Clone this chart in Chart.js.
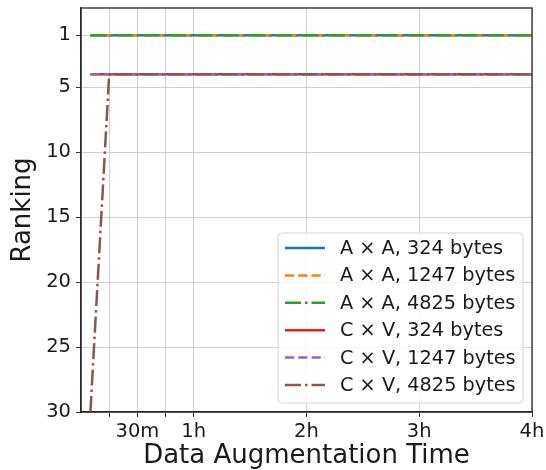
<!DOCTYPE html>
<html>
<head>
<meta charset="utf-8">
<script src="https://cdn.jsdelivr.net/npm/chart.js@4.4.1/dist/chart.umd.min.js"></script>
<style>
  html, body { margin: 0; padding: 0; background: #fff; }
  canvas { display: block; }
</style>
</head>
<body>
<canvas id="myChart" width="546" height="470"></canvas>
<script>
// time in minutes since start of augmentation
var times = [5, 15, 30, 60, 120, 180, 240];
var aa324 = [1, 1, 1, 1, 1, 1, 1];
var aa1247 = [1, 1, 1, 1, 1, 1, 1];
var aa4825 = [1, 1, 1, 1, 1, 1, 1];
var cv324 = [4, 4, 4, 4, 4, 4, 4];
var cv1247 = [4, 4, 4, 4, 4, 4, 4];
var cv4825 = [30, 4, 4, 4, 4, 4, 4];

var seriesLabels = [
  "A \u00d7 A, 324 bytes",
  "A \u00d7 A, 1247 bytes",
  "A \u00d7 A, 4825 bytes",
  "C \u00d7 V, 324 bytes",
  "C \u00d7 V, 1247 bytes",
  "C \u00d7 V, 4825 bytes"
];

var xTickValues = [15, 30, 45, 60, 120, 180, 240];
var xTickLabels = ["", "30m", "", "1h", "2h", "3h", "4h"];
var yTickValues = [1, 5, 10, 15, 20, 25, 30];

var FONT = "'DejaVu Sans', sans-serif";
var LW = 2.5;
var DASHED = [9.25, 4];
var DASHDOT = [16, 4, 2.5, 4];

toPoints = arr => arr.map((v, i) => ({ x: times[i], y: v }));

// later series are drawn on top, like matplotlib
makeSet = (label, data, color, dash, idx) => ({
  label: label,
  data: toPoints(data),
  borderColor: color,
  backgroundColor: color,
  borderWidth: LW,
  borderDash: dash,
  borderCapStyle: "butt",
  pointRadius: 0,
  tension: 0,
  fill: false,
  order: 10 - idx
});

// matplotlib style box around plot + legend inside the axes
var boxPlugin = {
  id: "boxAndLegend",
  afterDatasetsDraw: chart => {
    var ctx = chart.ctx;
    var a = chart.chartArea;
    ctx.save();

    // legend
    var w = 245, h = 170;
    var lx = a.right - 9 - w, ly = a.bottom - 9 - h;
    ctx.beginPath();
    ctx.roundRect(lx, ly, w, h, 4);
    ctx.fillStyle = "rgba(255,255,255,0.8)";
    ctx.fill();
    ctx.strokeStyle = "#d4d4d4";
    ctx.lineWidth = 1;
    ctx.stroke();

    ctx.font = "19.3px " + FONT;
    ctx.textBaseline = "middle";
    ctx.textAlign = "left";
    chart.data.datasets.forEach((ds, i) => {
      var y = ly + 15 + i * 27.4;
      ctx.beginPath();
      ctx.setLineDash(ds.borderDash || []);
      ctx.lineCap = "butt";
      ctx.strokeStyle = ds.borderColor;
      ctx.lineWidth = LW;
      ctx.moveTo(lx + 7, y);
      ctx.lineTo(lx + 47, y);
      ctx.stroke();
      ctx.setLineDash([]);
      ctx.fillStyle = "#1a1a1a";
      ctx.fillText(ds.label, lx + 62, y + 1);
    });

    // spines
    ctx.strokeStyle = "#262626";
    ctx.lineWidth = 1.3;
    ctx.strokeRect(a.left, a.top, a.right - a.left, a.bottom - a.top);
    ctx.restore();
  }
};

var ctx = document.getElementById("myChart");
new Chart(ctx, {
  type: "line",
  data: {
    datasets: [
      makeSet(seriesLabels[0], aa324, "#1f77b4", [], 0),
      makeSet(seriesLabels[1], aa1247, "#ff7f0e", DASHED, 1),
      makeSet(seriesLabels[2], aa4825, "#2ca02c", DASHDOT, 2),
      makeSet(seriesLabels[3], cv324, "#d62728", [], 3),
      makeSet(seriesLabels[4], cv1247, "#9467bd", DASHED, 4),
      makeSet(seriesLabels[5], cv4825, "#8c564b", DASHDOT, 5)
    ]
  },
  options: {
    responsive: false,
    animation: false,
    layout: { padding: { top: 8, right: 14, left: 0, bottom: 0 } },
    plugins: {
      legend: { display: false },
      tooltip: { enabled: false }
    },
    scales: {
      x: {
        type: "linear",
        min: 0,
        max: 240,
        afterBuildTicks: axis => {
          axis.ticks = xTickValues.map(v => ({ value: v }));
        },
        afterFit: scale => {
          scale.height = 58;
          scale.paddingLeft = 0;
          scale.paddingRight = 0;
        },
        ticks: {
          autoSkip: false,
          maxRotation: 0,
          padding: 3,
          color: "#1a1a1a",
          font: { family: FONT, size: 19.5 },
          callback: (value) => {
            var i = xTickValues.indexOf(value);
            return i >= 0 ? xTickLabels[i] : "";
          }
        },
        grid: { color: "#d0d0d0", lineWidth: 1, tickLength: 5, tickColor: "#333" },
        border: { color: "#262626", width: 1.3 },
        title: {
          display: true,
          text: "Data Augmentation Time",
          color: "#1a1a1a",
          font: { family: FONT, size: 26, lineHeight: 1 },
          padding: { top: 0, bottom: 1 }
        }
      },
      y: {
        type: "linear",
        reverse: true,
        min: -1.1,
        max: 30,
        afterBuildTicks: axis => {
          axis.ticks = yTickValues.map(v => ({ value: v }));
        },
        afterFit: scale => {
          scale.width = 81;
          scale.paddingTop = 0;
          scale.paddingBottom = 0;
        },
        ticks: {
          padding: 5,
          color: "#1a1a1a",
          font: { family: FONT, size: 19.5 }
        },
        grid: { color: "#d0d0d0", lineWidth: 1, tickLength: 5, tickColor: "#333" },
        border: { color: "#262626", width: 1.3 },
        title: {
          display: true,
          text: "Ranking",
          color: "#1a1a1a",
          font: { family: FONT, size: 26, lineHeight: 1 },
          padding: { top: 10.5, bottom: 0 }
        }
      }
    }
  },
  plugins: [boxPlugin]
});
</script>
</body>
</html>
